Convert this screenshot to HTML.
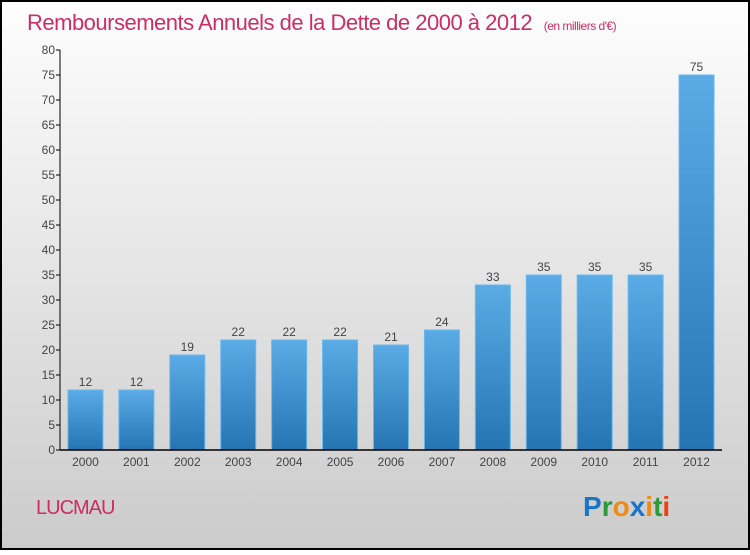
<!DOCTYPE html>
<html><head><meta charset="utf-8"><style>
html,body{margin:0;padding:0;}
body{width:750px;height:550px;overflow:hidden;font-family:"Liberation Sans",sans-serif;}
</style></head><body>
<svg width="750" height="550" xmlns="http://www.w3.org/2000/svg">
<defs>
<linearGradient id="bg" x1="0" y1="0" x2="0" y2="1"><stop offset="0" stop-color="#fefefe"/><stop offset="1" stop-color="#cbcbcb"/></linearGradient>
<linearGradient id="bar" x1="0" y1="0" x2="0" y2="1"><stop offset="0" stop-color="#5aabe6"/><stop offset="1" stop-color="#2475b2"/></linearGradient>
</defs>
<rect x="1" y="1" width="748" height="548" fill="url(#bg)" stroke="#000" stroke-width="2"/>
<text x="27" y="30" font-size="22" fill="#cc2d62" style="letter-spacing:-0.5px">Remboursements Annuels de la Dette de 2000 à 2012 <tspan font-size="12" dx="6">(en milliers d'€)</tspan></text>
<g id="yaxis"></g>
<g id="bars"></g>
<g id="xaxis"></g>
<text x="36" y="514" font-size="20" fill="#cc2d62" style="letter-spacing:-1px">LUCMAU</text>
<text x="583" y="516" font-size="28" font-weight="bold"><tspan fill="#1a75c9">P</tspan><tspan fill="#2a9a3a">r</tspan><tspan fill="#f08a10">o</tspan><tspan fill="#1a75c9">x</tspan><tspan fill="#f08a10">i</tspan><tspan fill="#2a9a3a">t</tspan><tspan fill="#f04010">i</tspan></text>
</svg>
<script>
const categories=["2000","2001","2002","2003","2004","2005","2006","2007","2008","2009","2010","2011","2012"];
const values=[12,12,19,22,22,22,21,24,33,35,35,35,75];
const yTicks=[0,5,10,15,20,25,30,35,40,45,50,55,60,65,70,75,80];
const NS="http://www.w3.org/2000/svg";
const x0=60,x1=722,y0=450,yTop=50,yMax=80;
const band=(x1-x0)/categories.length,bw=35;
const y=v=>y0-(v/yMax)*(y0-yTop);
const xc=i=>x0+band*(i+0.5);
function mk(t,a,p){const e=document.createElementNS(NS,t);for(const k in a)e.setAttribute(k,a[k]);p.appendChild(e);return e;}
const ya=document.getElementById('yaxis'),ba=document.getElementById('bars'),xa=document.getElementById('xaxis');
mk('line',{x1:x0,y1:yTop,x2:x0,y2:y0,stroke:'#000','stroke-width':1},ya);
yTicks.forEach(t=>{
 const l=mk('line',{x1:x0-4,y1:y(t),x2:x0,y2:y(t),stroke:'#000'},ya);
 
 
 const tx=mk('text',{x:x0-5,y:y(t)+4,'font-size':12,fill:'#444','text-anchor':'end'},ya);
 tx.textContent=t;
 
 
});
values.forEach((v,i)=>{
 const r=mk('rect',{x:xc(i)-bw/2,y:y(v),width:bw,height:y0-y(v),fill:'url(#bar)',stroke:'#6ab8ee','stroke-width':1},ba);
 
 
 const t=mk('text',{x:xc(i),y:y(v)-4,'font-size':12,fill:'#444','text-anchor':'middle'},ba);
 t.textContent=v;
 
 
});
mk('line',{x1:x0,y1:y0,x2:x1,y2:y0,stroke:'#000','stroke-width':1.5},xa);
categories.forEach((c,i)=>{
 const t=mk('text',{x:xc(i),y:466,'font-size':12,fill:'#444','text-anchor':'middle'},xa);
 t.textContent=c;
 
 
});
</script>
</body></html>
